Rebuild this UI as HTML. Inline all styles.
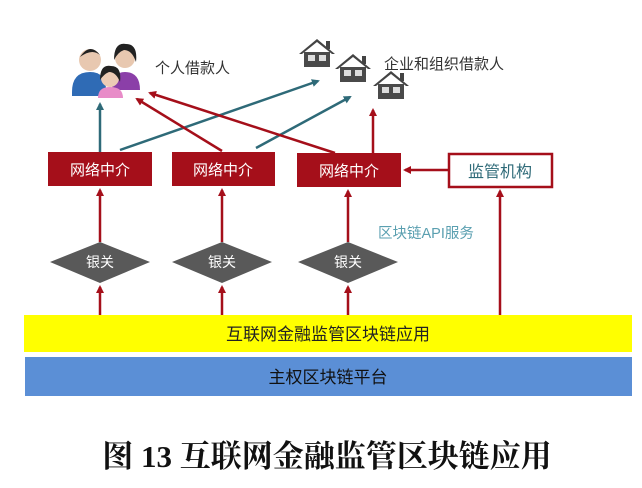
<!DOCTYPE html>
<html><head><meta charset="utf-8"><style>
body{margin:0;width:642px;height:488px;background:#fff;overflow:hidden}
</style></head><body>
<svg width="642" height="488" viewBox="0 0 642 488" xmlns="http://www.w3.org/2000/svg" style="position:absolute;left:0;top:0">
<defs>
<marker id="r" markerWidth="8" markerHeight="8" refX="6" refY="4" orient="auto" markerUnits="userSpaceOnUse"><path d="M0,0 L8,4 L0,8 z" fill="#a50f1a"/></marker>
<marker id="t" markerWidth="8" markerHeight="8" refX="6" refY="4" orient="auto" markerUnits="userSpaceOnUse"><path d="M0,0 L8,4 L0,8 z" fill="#2e6a78"/></marker>
<g id="h"><path d="M0,15 L18,0 L36,15 L33,15 L18,3 L3,15z" fill="#444"/><rect x="27" y="2" width="4" height="8" fill="#444"/><rect x="5" y="13" width="26" height="15" fill="#4a4a4a"/><rect x="9" y="16" width="7" height="6" fill="#ddd"/><rect x="20" y="16" width="7" height="6" fill="#ddd"/></g>
</defs>
<g font-family="Liberation Sans, Noto Sans CJK SC, sans-serif">
<circle cx="90" cy="60" r="11" fill="#e8c8b0"/><path d="M80,57 Q90,42 100,55 Q92,48 80,57z" fill="#222"/>
<path d="M72,92 Q72,72 90,72 Q106,72 106,90 L106,96 L72,96z" fill="#2f6bb5"/>
<circle cx="125" cy="58" r="10" fill="#e8c8b0"/><path d="M114,60 Q114,42 126,44 Q138,44 136,62 Q132,50 124,50 Q118,52 114,60z" fill="#222"/>
<path d="M112,90 Q112,72 125,72 Q140,72 140,90z" fill="#8b3fa8"/>
<circle cx="110" cy="78" r="9" fill="#eccbb5"/><path d="M100,80 Q100,64 111,66 Q122,66 120,82 Q116,72 109,72 Q104,74 100,80z" fill="#222"/>
<path d="M98,98 Q98,87 110,87 Q123,87 123,98z" fill="#e88cc8"/>
<text x="155" y="73" font-size="15" fill="#333">个人借款人</text>
<use href="#h" x="299" y="39"/><use href="#h" x="335" y="54"/><use href="#h" x="373" y="71"/>
<text x="384" y="69" font-size="15" fill="#333">企业和组织借款人</text>
<line x1="100" y1="152" x2="100" y2="104" stroke="#2e6a78" stroke-width="2.5" marker-end="url(#t)"/>
<line x1="120" y1="150" x2="318" y2="81" stroke="#2e6a78" stroke-width="2.5" marker-end="url(#t)"/>
<line x1="256" y1="148" x2="350" y2="97" stroke="#2e6a78" stroke-width="2.5" marker-end="url(#t)"/>
<line x1="222" y1="151" x2="137" y2="99" stroke="#a50f1a" stroke-width="2.5" marker-end="url(#r)"/>
<line x1="335" y1="153" x2="150" y2="93" stroke="#a50f1a" stroke-width="2.5" marker-end="url(#r)"/>
<line x1="373" y1="153" x2="373" y2="110" stroke="#a50f1a" stroke-width="2.5" marker-end="url(#r)"/>
<line x1="448" y1="170" x2="405" y2="170" stroke="#a50f1a" stroke-width="2.5" marker-end="url(#r)"/>
<rect x="48" y="152" width="104" height="34" fill="#a50f1a"/>
<rect x="172" y="152" width="103" height="34" fill="#a50f1a"/>
<rect x="297" y="153" width="104" height="34" fill="#a50f1a"/>
<g font-size="15" fill="#fff" text-anchor="middle"><text x="100" y="175">网络中介</text><text x="223" y="175">网络中介</text><text x="349" y="176">网络中介</text></g>
<rect x="449" y="154" width="103" height="33" fill="#fff" stroke="#a50f1a" stroke-width="2.5"/>
<text x="500" y="177" font-size="16" fill="#2e6a78" text-anchor="middle">监管机构</text>
<g stroke="#a50f1a" stroke-width="2.5">
<line x1="100" y1="242" x2="100" y2="190" marker-end="url(#r)"/><line x1="222" y1="242" x2="222" y2="190" marker-end="url(#r)"/><line x1="348" y1="242" x2="348" y2="191" marker-end="url(#r)"/>
<line x1="100" y1="315" x2="100" y2="287" marker-end="url(#r)"/><line x1="222" y1="315" x2="222" y2="287" marker-end="url(#r)"/><line x1="348" y1="315" x2="348" y2="287" marker-end="url(#r)"/>
<line x1="500" y1="315" x2="500" y2="191" marker-end="url(#r)"/>
</g>
<text x="378" y="238" font-size="14.5" fill="#5a9fb0">区块链API服务</text>
<g fill="#595959"><path d="M50,262 L100,242 L150,262 L100,283z"/><path d="M172,262 L222,242 L272,262 L222,283z"/><path d="M298,262 L348,242 L398,262 L348,283z"/></g>
<g font-size="14" fill="#fff" text-anchor="middle"><text x="100" y="267">银关</text><text x="222" y="267">银关</text><text x="348" y="267">银关</text></g>
<rect x="24" y="315" width="608" height="37" fill="#ffff00"/>
<text x="328" y="340" font-size="17" fill="#222" text-anchor="middle">互联网金融监管区块链应用</text>
<rect x="25" y="357" width="607" height="39" fill="#5b8fd6"/>
<text x="328" y="383" font-size="17" fill="#111" text-anchor="middle">主权区块链平台</text>
</g>
<text x="327" y="467" font-size="31" font-weight="bold" fill="#111" text-anchor="middle" font-family="Liberation Serif, Noto Serif CJK SC, serif">图 13 互联网金融监管区块链应用</text>
</svg>
</body></html>
